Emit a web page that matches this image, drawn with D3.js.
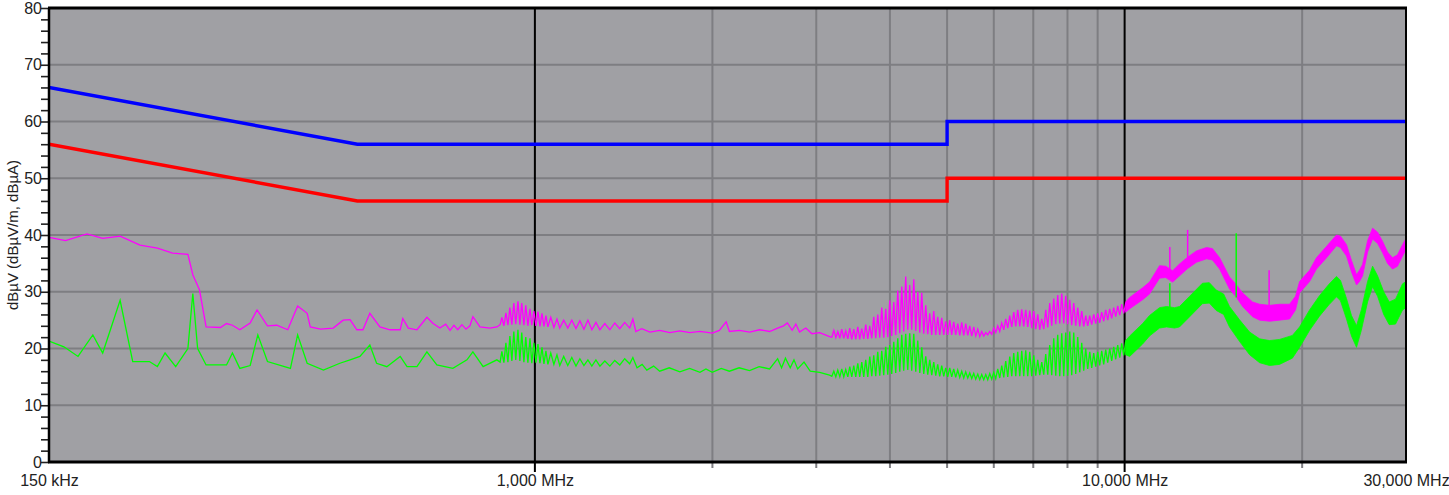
<!DOCTYPE html>
<html>
<head>
<meta charset="utf-8">
<script src="https://cdn.jsdelivr.net/npm/d3@7"></script>
<style>
  body { margin: 0; background: #ffffff; }
  svg text { font-family: "Liberation Sans", Arial, sans-serif; }
</style>
</head>
<body>
<svg id="chart"></svg>
<script>
const width = 1449, height = 495;

// Axis ticks and labels
const freqLabelTicks = [0.15, 1, 10, 30];
const freqLabels = ["150 kHz", "1,000 MHz", "10,000 MHz", "30,000 MHz"];
const majorFreqs = [1, 10];
const minorFreqs = [2, 3, 4, 5, 6, 7, 8, 9, 20];
const levelGrid = [10, 20, 30, 40, 50, 60, 70];
const yTitle = "dBµV (dBµV/m, dBµA)";

// Limit lines [MHz, dB]
const qpLimit = [[0.15, 66], [0.5, 56], [5, 56], [5, 60], [30, 60]];
const avLimit = [[0.15, 56], [0.5, 46], [5, 46], [5, 50], [30, 50]];

// Peak / QP trace (magenta) [MHz, dB]
const qpTrace = [
  [0.150,39.6],[0.160,39.0],[0.174,40.2],[0.185,39.4],[0.198,39.8],[0.214,38.2],[0.229,37.7],[0.243,36.8],[0.258,36.6],[0.263,33.0],[0.270,30.3],[0.277,23.8],[0.293,23.7],[0.300,24.4],[0.307,24.1],[0.316,23.3],[0.329,24.5],[0.338,26.8],[0.352,24.0],[0.365,24.1],[0.381,23.3],[0.396,27.5],[0.411,26.2],[0.416,23.8],[0.433,23.4],[0.455,23.6],[0.473,25.0],[0.486,25.1],[0.499,23.3],[0.511,23.3],[0.525,26.2],[0.546,23.8],[0.568,23.3],[0.591,23.3],[0.597,25.3],[0.610,23.6],[0.631,23.3],[0.656,25.5],[0.672,24.4],[0.690,23.6],[0.706,24.3],[0.718,23.2],[0.729,24.1],[0.740,23.3],[0.752,24.2],[0.764,23.4],[0.776,24.0],[0.785,25.6],[0.807,23.8],[0.839,23.6],[0.862,23.8],
  [0.873,24.2],[0.879,25.5],[0.886,24.0],[0.893,26.3],[0.900,24.1],[0.907,27.2],[0.914,24.2],[0.921,28.0],[0.928,24.3],[0.936,28.3],[0.943,24.2],[0.950,28.0],[0.958,24.1],[0.965,27.6],[0.973,24.0],[0.981,27.0],[0.988,24.1],[0.996,26.6],[1.004,24.0],[1.012,26.5],[1.020,23.9],[1.028,26.2],[1.036,23.9],[1.044,25.8],[1.052,23.8],[1.064,25.5],[1.077,23.7],[1.090,25.2],[1.102,23.6],[1.119,25.0],[1.137,23.6],[1.155,25.0],[1.174,23.5],[1.192,24.9],[1.211,23.4],[1.230,25.0],[1.249,23.3],[1.269,24.6],[1.289,23.3],
  [1.314,24.4],[1.340,23.3],[1.366,24.5],[1.393,23.5],[1.420,24.6],[1.448,23.6],[1.466,25.2],[1.483,23.0],[1.518,23.5],[1.567,22.9],[1.628,23.2],[1.694,22.8],[1.761,23.1],[1.832,22.8],[1.905,23.0],[1.999,22.7],[2.055,23.2],[2.110,24.7],[2.137,23.0],[2.223,23.2],[2.312,22.9],[2.404,23.3],[2.500,23.0],[2.580,23.6],[2.640,24.0],[2.680,24.5],[2.730,23.2],[2.770,24.3],[2.810,22.9],[2.880,23.6],[2.950,22.6],[3.040,22.8],[3.160,22.1],
  [3.188,22.0],[3.213,23.2],[3.238,21.9],[3.263,23.0],[3.289,21.8],[3.314,23.4],[3.340,21.8],[3.366,23.1],[3.393,21.7],[3.419,23.6],[3.446,21.6],[3.473,23.4],[3.500,21.6],[3.528,23.8],[3.555,21.6],[3.583,23.5],[3.611,21.7],[3.639,24.2],[3.668,21.7],[3.697,24.0],[3.726,21.8],[3.755,25.6],[3.784,21.8],[3.814,26.0],[3.844,21.9],[3.874,27.2],[3.904,21.9],[3.935,27.0],[3.966,22.0],[3.997,28.5],[4.028,22.2],[4.060,28.2],[4.091,22.4],[4.124,30.2],[4.156,22.7],[4.189,30.9],[4.221,23.0],[4.254,32.7],[4.288,23.3],[4.321,31.2],[4.355,23.3],[4.390,32.2],[4.424,23.1],[4.459,30.0],[4.494,22.8],[4.529,29.8],[4.564,22.6],[4.600,27.6],[4.636,22.5],[4.672,26.2],[4.709,22.4],[4.746,26.6],[4.783,22.4],[4.820,25.6],[4.858,22.4],[4.896,25.4],[4.935,22.4],[4.973,24.8],[5.012,22.4],[5.052,25.0],[5.091,22.4],[5.131,24.7],[5.171,22.4],[5.212,24.4],[5.253,22.3],[5.294,24.6],[5.336,22.3],[5.377,24.4],[5.420,22.3],[5.462,24.0],[5.505,22.2],[5.548,23.8],[5.592,22.2],[5.636,23.4],[5.680,22.1],[5.724,23.0],[5.769,22.2],[5.815,22.8],[5.860,22.4],[5.906,23.0],
  [5.952,22.5],[5.999,23.6],[6.046,22.8],[6.093,24.0],[6.141,23.0],[6.189,24.5],[6.238,23.3],[6.286,25.2],[6.336,23.6],[6.386,25.8],[6.436,23.8],[6.486,26.4],[6.537,23.9],[6.588,26.8],[6.640,23.9],[6.692,26.9],[6.744,23.9],[6.797,26.8],[6.850,23.8],[6.904,26.7],[6.958,23.6],[7.013,26.6],[7.068,23.4],[7.123,26.0],[7.179,23.3],[7.235,25.2],[7.292,23.4],[7.349,26.8],[7.407,23.7],[7.465,28.0],[7.523,24.0],[7.582,28.8],[7.642,24.3],[7.701,29.4],[7.762,24.4],[7.823,29.7],[7.884,24.4],[7.946,29.3],[8.008,24.3],[8.071,28.6],[8.134,24.1],[8.198,28.0],[8.262,24.0],[8.327,27.2],[8.392,23.9],[8.458,26.6],[8.524,23.9],[8.591,25.8],[8.658,24.0],[8.726,25.8],[8.794,24.2],[8.863,26.0],[8.933,24.4],[9.003,26.2],[9.073,24.5],[9.144,26.4],[9.216,24.8],[9.288,26.8],[9.361,25.0],[9.434,27.0],[9.508,25.3],[9.583,27.2],[9.658,25.6],[9.734,27.5],[9.810,25.9],[9.887,27.8],[9.964,26.2],[10.04,28.0]
];
// thick noisy part of the magenta trace [MHz, low, high]
const qpBand = [
  [10.04,26.4,28.2],[10.20,27.0,29.0],[10.73,28.6,30.7],[11.02,29.6,31.7],[11.46,32.4,34.6],[11.74,32.5,34.5],[12.06,31.7,33.7],[12.39,32.8,34.9],[12.79,34.1,36.1],[13.24,35.2,37.2],[13.77,35.8,37.8],[14.09,35.6,37.6],[14.49,34.0,36.0],[15.06,30.5,32.6],[15.48,29.0,31.2],[15.85,27.4,29.8],[16.48,25.6,28.2],[16.94,25.0,27.8],[17.61,24.8,27.6],[18.31,25.0,27.8],[19.04,25.2,27.8],[19.49,26.8,29.2],[19.80,29.8,31.8],[20.59,31.8,33.8],[21.15,34.0,36.0],[22.00,36.0,38.0],[22.87,38.1,40.0],[23.23,37.8,39.8],[23.78,36.3,38.3],[24.25,33.5,35.5],[24.73,31.2,33.0],[25.02,31.8,33.8],[25.32,32.8,34.8],[25.82,37.0,39.0],[26.33,39.3,41.2],[26.85,38.5,40.5],[27.37,36.9,38.9],[27.91,35.0,37.0],[28.46,34.0,36.0],[29.02,34.5,36.5],[29.60,36.3,38.3],[30.00,37.4,39.4]
];
const qpSpikes = [[11.93, 33.0, 37.9], [12.79, 35.0, 40.9], [17.58, 27.0, 33.8]];

// Average trace (green) [MHz, dB]
const avTrace = [
  [0.150,21.3],[0.159,20.3],[0.168,18.6],[0.178,22.4],[0.185,19.2],[0.198,28.5],[0.208,17.7],[0.222,17.7],[0.229,16.8],[0.236,19.2],[0.246,16.8],[0.258,20.0],[0.263,29.7],[0.268,20.0],[0.277,17.1],[0.300,17.1],[0.307,19.2],[0.316,16.5],[0.329,17.0],[0.339,22.4],[0.352,17.7],[0.385,16.5],[0.396,22.4],[0.411,17.4],[0.438,16.2],[0.467,17.4],[0.486,18.0],[0.505,18.6],[0.525,20.6],[0.539,17.4],[0.561,16.8],[0.591,18.6],[0.607,16.8],[0.631,16.8],[0.656,19.4],[0.682,17.1],[0.726,16.5],[0.767,18.0],[0.785,19.4],[0.817,16.8],[0.862,18.0],
  [0.873,17.6],[0.879,19.5],[0.886,17.5],[0.893,21.0],[0.900,17.6],[0.907,22.2],[0.914,17.8],[0.921,23.0],[0.928,18.0],[0.936,23.3],[0.943,17.8],[0.950,22.8],[0.958,17.6],[0.965,22.0],[0.973,17.5],[0.981,21.8],[0.988,17.4],[0.996,21.0],[1.004,17.5],[1.012,20.8],[1.020,17.4],[1.028,20.2],[1.036,17.3],[1.044,19.6],[1.052,17.2],[1.064,19.2],[1.077,17.2],[1.090,18.9],[1.102,17.0],[1.119,18.6],[1.137,17.0],[1.155,18.4],[1.174,16.9],[1.192,18.2],[1.211,17.0],[1.230,18.0],[1.249,16.9],[1.269,18.0],[1.289,16.9],
  [1.314,17.8],[1.340,16.9],[1.366,17.9],[1.393,17.1],[1.420,18.2],[1.448,17.3],[1.466,18.4],[1.490,16.6],[1.520,17.2],[1.548,16.2],[1.590,16.9],[1.628,16.0],[1.690,16.6],[1.761,15.9],[1.830,16.5],[1.905,15.8],[1.950,16.4],[1.999,15.8],[2.070,16.5],[2.137,16.0],[2.220,16.6],[2.312,16.1],[2.400,16.8],[2.500,16.4],[2.580,18.2],[2.620,16.6],[2.660,18.3],[2.710,16.6],[2.750,18.0],[2.790,16.4],[2.860,17.6],[2.930,16.0],[3.040,15.8],[3.160,15.3],
  [3.188,15.1],[3.213,16.0],[3.238,15.0],[3.263,16.2],[3.289,15.0],[3.314,16.4],[3.340,15.0],[3.366,16.3],[3.393,15.0],[3.419,16.8],[3.446,15.0],[3.473,17.0],[3.500,15.0],[3.528,17.4],[3.555,15.0],[3.583,17.6],[3.611,15.0],[3.639,18.0],[3.668,15.0],[3.697,18.6],[3.726,15.1],[3.755,18.8],[3.784,15.1],[3.814,19.4],[3.844,15.2],[3.874,19.6],[3.904,15.3],[3.935,20.3],[3.966,15.4],[3.997,20.6],[4.028,15.5],[4.060,21.2],[4.091,15.7],[4.124,21.8],[4.156,15.9],[4.189,22.4],[4.221,16.1],[4.254,22.6],[4.288,16.2],[4.321,22.7],[4.355,16.1],[4.390,22.6],[4.424,15.9],[4.459,21.4],[4.494,15.7],[4.529,20.2],[4.564,15.5],[4.600,18.6],[4.636,15.4],[4.672,18.0],[4.709,15.3],[4.746,17.6],[4.783,15.2],[4.820,17.2],[4.858,15.1],[4.896,17.0],[4.935,15.1],[4.973,16.6],[5.012,15.0],[5.052,16.6],[5.091,15.0],[5.131,16.4],[5.171,14.9],[5.212,16.2],[5.253,14.9],[5.294,16.0],[5.336,14.8],[5.377,15.9],[5.420,14.8],[5.462,15.7],[5.505,14.7],[5.548,15.6],[5.592,14.6],[5.636,15.5],[5.680,14.5],[5.724,15.4],[5.769,14.5],[5.815,15.4],[5.860,14.5],[5.906,15.6],
  [5.952,14.6],[5.999,15.8],[6.046,14.7],[6.093,16.4],[6.141,14.8],[6.189,17.0],[6.238,14.9],[6.286,17.8],[6.336,15.0],[6.386,18.6],[6.436,15.1],[6.486,19.2],[6.537,15.1],[6.588,19.4],[6.640,15.1],[6.692,19.6],[6.744,15.1],[6.797,19.7],[6.850,15.1],[6.904,19.4],[6.958,15.1],[7.013,18.8],[7.068,15.2],[7.123,18.0],[7.179,15.3],[7.235,17.6],[7.292,15.4],[7.349,19.0],[7.407,15.4],[7.465,20.6],[7.523,15.3],[7.582,21.8],[7.642,15.2],[7.701,22.4],[7.762,15.1],[7.823,22.7],[7.884,15.1],[7.946,22.8],[8.008,15.2],[8.071,23.0],[8.134,15.3],[8.198,22.8],[8.262,15.5],[8.327,22.0],[8.392,15.8],[8.458,21.0],[8.524,16.1],[8.591,20.0],[8.658,16.4],[8.726,19.4],[8.794,16.6],[8.863,19.2],[8.933,16.8],[9.003,19.4],[9.073,17.0],[9.144,19.6],[9.216,17.2],[9.288,19.8],[9.361,17.5],[9.434,20.0],[9.508,17.8],[9.583,20.3],[9.658,18.1],[9.734,20.6],[9.810,18.4],[9.887,20.9],[9.964,18.8],[10.04,21.2]
];
const avBand = [
  [10.04,18.9,21.4],[10.20,18.6,22.2],[10.73,20.8,24.4],[11.02,22.2,25.8],[11.46,23.6,27.2],[11.78,23.8,27.4],[12.15,23.6,27.2],[12.39,23.8,27.4],[12.89,25.6,29.2],[13.55,27.9,31.5],[13.92,28.0,31.6],[14.30,26.7,30.3],[14.72,26.0,29.6],[15.06,23.8,27.4],[15.65,21.3,25.1],[16.29,18.9,22.9],[16.94,17.5,21.7],[17.61,17.0,21.4],[18.31,17.2,21.6],[19.25,18.3,22.3],[19.80,20.2,23.8],[20.59,23.2,26.8],[21.40,25.7,29.3],[22.20,27.7,31.3],[22.87,29.1,32.7],[23.23,28.4,32.0],[23.78,25.2,28.8],[24.25,22.2,25.8],[24.73,20.2,24.0],[25.20,23.2,26.8],[25.82,28.2,31.8],[26.33,30.9,34.5],[26.85,29.2,32.8],[27.50,26.0,30.0],[28.10,24.2,28.2],[28.80,24.3,28.7],[29.60,26.8,31.4],[30.00,27.2,31.8]
];
const avSpikes = [[11.93, 26.0, 31.5], [15.46, 29.0, 40.3]];

const svg = d3.select("#chart")
  .attr("width", width)
  .attr("height", height)
  .style("background", "#ffffff");

const x = d3.scaleLog().domain([0.15, 30]).range([49, 1406]);
const y = d3.scaleLinear().domain([0, 80]).range([462, 8]);

// plot background
svg.append("rect")
  .attr("x", x(0.15)).attr("y", y(80))
  .attr("width", x(30) - x(0.15)).attr("height", y(0) - y(80))
  .attr("fill", "#a0a0a4");

svg.append("clipPath").attr("id", "plotclip")
  .append("rect")
  .attr("x", x(0.15)).attr("y", y(80))
  .attr("width", x(30) - x(0.15)).attr("height", y(0) - y(80));

// grid
svg.append("g").selectAll("line")
  .data(levelGrid).enter().append("line")
  .attr("x1", x(0.15)).attr("x2", x(30))
  .attr("y1", d => y(d)).attr("y2", d => y(d))
  .attr("stroke", "#7e7e82").attr("stroke-width", 2);

svg.append("g").selectAll("line")
  .data(minorFreqs).enter().append("line")
  .attr("x1", d => x(d)).attr("x2", d => x(d))
  .attr("y1", y(80)).attr("y2", y(0) + 6)
  .attr("stroke", "#7e7e82").attr("stroke-width", 2);

svg.append("g").selectAll("line")
  .data(majorFreqs).enter().append("line")
  .attr("x1", d => x(d)).attr("x2", d => x(d))
  .attr("y1", y(80)).attr("y2", y(0) + 10)
  .attr("stroke", "#000").attr("stroke-width", 2);

// traces
const plot = svg.append("g").attr("clip-path", "url(#plotclip)");
const line = d3.line().x(d => x(d[0])).y(d => y(d[1]));
const band = d3.area().x(d => x(d[0])).y0(d => y(d[1])).y1(d => y(d[2]));

function drawTrace(trace, bandData, spikes, color) {
  plot.append("path").datum(trace)
    .attr("d", line).attr("fill", "none")
    .attr("stroke", color).attr("stroke-width", 1.3);
  plot.append("path").datum(bandData)
    .attr("d", band).attr("fill", color)
    .attr("stroke", color).attr("stroke-width", 0.8);
  plot.selectAll(null).data(spikes).enter().append("line")
    .attr("x1", d => x(d[0])).attr("x2", d => x(d[0]))
    .attr("y1", d => y(d[1])).attr("y2", d => y(d[2]))
    .attr("stroke", color).attr("stroke-width", 1.5);
}
drawTrace(qpTrace, qpBand, qpSpikes, "#ff00ff");
drawTrace(avTrace, avBand, avSpikes, "#00ff00");

// limit lines
plot.append("path").datum(qpLimit)
  .attr("d", line).attr("fill", "none")
  .attr("stroke", "#0000ff").attr("stroke-width", 3.4);
plot.append("path").datum(avLimit)
  .attr("d", line).attr("fill", "none")
  .attr("stroke", "#ff0000").attr("stroke-width", 3.4);

// y axis
const yAxis = svg.append("g")
  .attr("transform", `translate(${x(0.15)},0)`)
  .call(d3.axisLeft(y)
    .tickValues(d3.range(0, 81, 2))
    .tickSize(8)
    .tickPadding(-1)
    .tickFormat(d => d % 10 === 0 ? d : ""));
yAxis.select(".domain").remove();
yAxis.selectAll(".tick line").attr("stroke", "#222").attr("stroke-width", 1.6);
yAxis.selectAll("text").style("font-size", "16px").attr("fill", "#222");

// x labels
const xAxis = svg.append("g")
  .attr("transform", `translate(0,${y(0)})`)
  .call(d3.axisBottom(x)
    .tickValues(freqLabelTicks)
    .tickSize(0)
    .tickPadding(13)
    .tickFormat((d, i) => freqLabels[i]));
xAxis.select(".domain").remove();
xAxis.selectAll("text").style("font-size", "16px").attr("fill", "#222");

// frame
svg.append("line").attr("x1", x(0.15) - 1).attr("x2", x(30) + 1)
  .attr("y1", y(80)).attr("y2", y(80)).attr("stroke", "#000").attr("stroke-width", 3);
svg.append("line").attr("x1", x(0.15) - 1).attr("x2", x(30) + 1)
  .attr("y1", y(0)).attr("y2", y(0)).attr("stroke", "#000").attr("stroke-width", 3);
svg.append("line").attr("x1", x(0.15)).attr("x2", x(0.15))
  .attr("y1", y(80)).attr("y2", y(0)).attr("stroke", "#000").attr("stroke-width", 2.5);
svg.append("line").attr("x1", x(30)).attr("x2", x(30))
  .attr("y1", y(80)).attr("y2", y(0)).attr("stroke", "#000").attr("stroke-width", 2);

// y title
svg.append("text")
  .attr("transform", `translate(18,${(y(0) + y(80)) / 2}) rotate(-90)`)
  .attr("text-anchor", "middle")
  .style("font-size", "15px")
  .attr("fill", "#222")
  .text(yTitle);
</script>
</body>
</html>
